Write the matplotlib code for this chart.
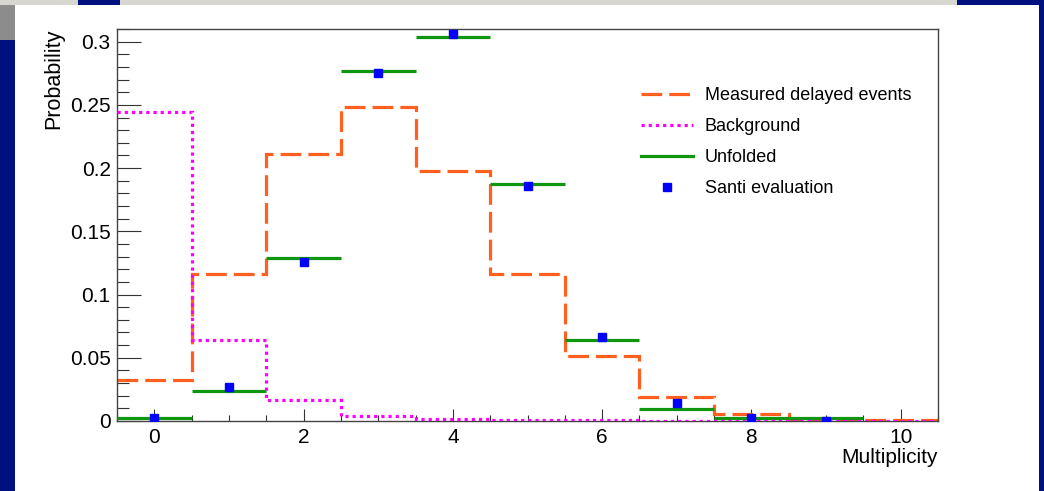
import numpy as np
import matplotlib.pyplot as plt
from matplotlib.patches import Rectangle
from matplotlib.ticker import MultipleLocator

plt.rcParams['font.family'] = ['Liberation Sans', 'DejaVu Sans']

# multiplicity bins 0..10
multiplicity = np.arange(0, 11)
bin_edges = np.arange(-0.5, 11.0, 1.0)

measured = [0.0325, 0.116, 0.211, 0.248, 0.198, 0.116, 0.0515, 0.019, 0.0055, 0.001, 0.0004]
background = [0.244, 0.064, 0.0166, 0.004, 0.0015, 0.0007, 0.0004, 0.0003, 0.0003, 0.0003, 0.0003]
unfolded = [0.0024, 0.0237, 0.129, 0.277, 0.304, 0.1875, 0.064, 0.0095, 0.0024, 0.0022]
santi_x = [0, 1, 2, 3, 4, 5, 6, 7, 8, 9]
santi = [0.0024, 0.027, 0.126, 0.2755, 0.3064, 0.186, 0.0666, 0.0142, 0.0024, 0.0002]

W, H = 1044, 491
fig = plt.figure(figsize=(W / 100, H / 100), dpi=100, facecolor='#00107f')

# slide-like background pieces (behind the axes)
def bg_rect(x, y, w, h, color, z=-3):
    fig.add_artist(Rectangle((x / W, y / H), w / W, h / H, transform=fig.transFigure,
                             facecolor=color, edgecolor='none', zorder=z))

bg_rect(15, 0, 1024, 486, 'white')
bg_rect(0, 486, 957, 5, '#d8d6d0')
bg_rect(78, 486, 42, 5, '#00107f', z=-2)
bg_rect(0, 451, 15, 35, '#8c8c8c')

ax = fig.add_axes([117 / W, 1 - 421 / H, (938 - 117) / W, (421 - 29) / H])
ax.set_facecolor('white')

ax.stairs(measured, bin_edges, baseline=None, color='#ff5f1f', lw=2.3,
          linestyle=(0, (6.5, 2.2)), zorder=2)
ax.hlines(unfolded, bin_edges[:len(unfolded)], bin_edges[1:len(unfolded) + 1],
          color='#0e960e', lw=2.3, zorder=3)
ax.stairs(background, bin_edges, baseline=None, color='#ff00ff', lw=2.3,
          linestyle=(0, (1, 1.25)), zorder=4)
ax.plot(santi_x, santi, 's', color='#0000ff', ms=5.8, zorder=5)

# legend handles
h_meas = plt.Line2D([], [], color='#ff5f1f', lw=2.3, linestyle=(0, (6.5, 2.2)))
h_bg = plt.Line2D([], [], color='#ff00ff', lw=2.3, linestyle=(0, (1, 1.25)))
h_unf = plt.Line2D([], [], color='#0e960e', lw=2.3)
h_santi = plt.Line2D([], [], color='#0000ff', marker='s', ms=5.8, linestyle='none')
ax.legend([h_meas, h_bg, h_unf, h_santi],
          ['Measured delayed events', 'Background', 'Unfolded', 'Santi evaluation'],
          loc='upper left', bbox_to_anchor=(0.638, 0.852), frameon=False,
          fontsize=13, handlelength=2.9, handletextpad=0.65, labelspacing=0.78,
          borderpad=0, borderaxespad=0)

ax.set_xlim(-0.5, 10.5)
ax.set_ylim(0, 0.31)
ax.xaxis.set_major_locator(MultipleLocator(2))
ax.xaxis.set_minor_locator(MultipleLocator(0.5))
ax.yaxis.set_minor_locator(MultipleLocator(0.01))
ax.set_yticks([0, 0.05, 0.1, 0.15, 0.2, 0.25, 0.3])
ax.set_yticklabels(['0', '0.05', '0.1', '0.15', '0.2', '0.25', '0.3'])

tick_color = '#333333'
ax.tick_params(axis='both', which='both', direction='in', colors=tick_color,
               labelcolor='black', labelsize=15, width=0.8, top=False, right=False)
ax.tick_params(axis='x', which='major', length=8.6, pad=5)
ax.tick_params(axis='x', which='minor', length=4.3)
ax.tick_params(axis='y', which='major', length=17.5, pad=4.5)
ax.tick_params(axis='y', which='minor', length=8.8)
for s in ax.spines.values():
    s.set_color('#444444')
    s.set_linewidth(1.0)

ax.set_xlabel('Multiplicity', fontsize=15, loc='right', labelpad=1)
ax.set_ylabel('Probability', fontsize=15.5, loc='top', labelpad=4)

fig.savefig('out.png', dpi=100, facecolor=fig.get_facecolor())
